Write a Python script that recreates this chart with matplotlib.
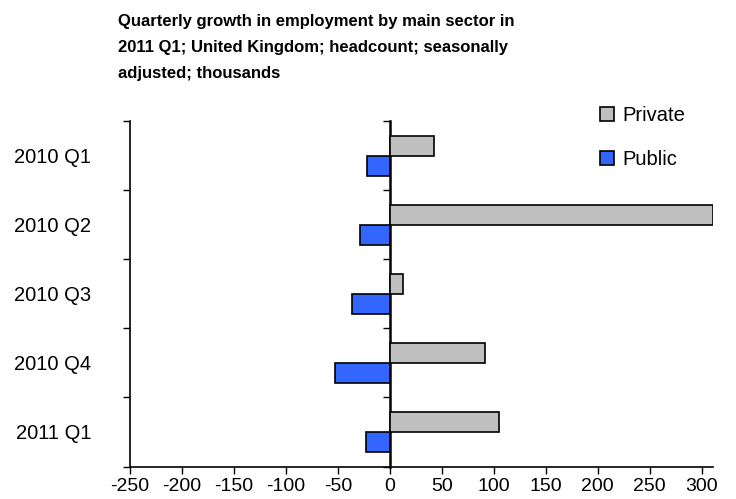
import numpy as np
import matplotlib.pyplot as plt

quarters = ['2010 Q1', '2010 Q2', '2010 Q3', '2010 Q4', '2011 Q1']
private = [43, 311, 13, 92, 105]
public = [-22, -29, -36, -53, -23]

plt.rcParams['font.family'] = ['Liberation Sans', 'DejaVu Sans']
plt.rcParams['axes.unicode_minus'] = False

fig = plt.figure(figsize=(7.36, 4.99), dpi=100)
ax = fig.add_axes([130 / 736, 1 - 466.5 / 499, (713 - 130) / 736, (466.5 - 121) / 499])

y = np.arange(len(quarters))
h = 0.29
ax.barh(y - h / 2, private, height=h, color='#C0C0C0', edgecolor='black', linewidth=1.2, label='Private')
ax.barh(y + h / 2, public, height=h, color='#3366FF', edgecolor='black', linewidth=1.2, label='Public')

ax.set_xlim(-250, 311)
ax.set_ylim(len(quarters) - 0.5, -0.5)
ax.set_xticks(np.arange(-250, 301, 50))
ax.tick_params(axis='x', labelsize=14, length=5, width=1, pad=3)

bounds = np.arange(len(quarters) + 1) - 0.5
ax.set_yticks(bounds)
ax.set_yticklabels([])
ax.set_yticks(y, minor=True)
ax.set_yticklabels(quarters, minor=True)
ax.tick_params(axis='y', which='major', length=5, width=1, direction='out')
ax.tick_params(axis='y', which='minor', length=0, labelsize=14.5, pad=28)
ax.spines['top'].set_visible(False)
ax.spines['right'].set_visible(False)
ax.spines['left'].set_linewidth(1.2)
ax.spines['bottom'].set_linewidth(1.2)

# category axis crossing at zero
sec = ax.secondary_yaxis(0, transform=ax.transData)
sec.set_yticks(bounds)
sec.set_yticklabels([])
sec.tick_params(length=5, width=1, direction='out')
sec.spines['left'].set_linewidth(1.8)

fig.text(118 / 736, 1 - 14 / 499,
         'Quarterly growth in employment by main sector in\n'
         '2011 Q1; United Kingdom; headcount; seasonally\n'
         'adjusted; thousands',
         ha='left', va='top', fontsize=12, fontweight='bold', linespacing=1.9)

fig.legend(loc='upper left', bbox_to_anchor=(582 / 736, 1 - 88 / 499), frameon=False,
           fontsize=14.5, handlelength=0.7, handleheight=0.7, handletextpad=0.4,
           labelspacing=1.25)

fig.savefig('out.png', dpi=100)
